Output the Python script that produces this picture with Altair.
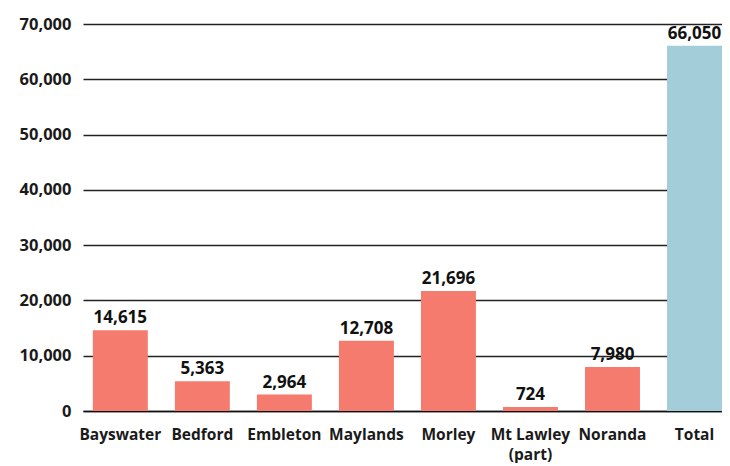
import altair as alt
import pandas as pd

suburbs = ["Bayswater", "Bedford", "Embleton", "Maylands", "Morley", "Mt Lawley\n(part)", "Noranda", "Total"]
values = [14615, 5363, 2964, 12708, 21696, 724, 7980, 66050]
groups = ["suburb"] * 7 + ["total"]
ticks = [0, 10000, 20000, 30000, 40000, 50000, 60000, 70000]

df = pd.DataFrame({"suburb": suburbs, "value": values, "group": groups})

FONT = "Open Sans"

x = alt.X("suburb:N", sort=suburbs, title=None,
          scale=alt.Scale(paddingInner=0.33, paddingOuter=0.06, align=1),
          axis=alt.Axis(labelAngle=0, labelFont=FONT, labelFontSize=15.5, labelFontWeight="bold",
                        labelColor="#1a1a1a", labelPadding=16, ticks=False, domain=True,
                        domainColor="#111", domainWidth=1.5, labelLineHeight=20,
                        labelExpr="split(datum.label, '\\n')"))

y = alt.Y("value:Q", title=None,
          scale=alt.Scale(domain=[0, 70000]),
          axis=alt.Axis(values=ticks, labelExpr="format(datum.value, ',')", labelFont=FONT,
                        labelFontSize=16.5, labelFontWeight="bold", labelColor="#1a1a1a",
                        labelPadding=12, ticks=False, domain=False, grid=True,
                        gridColor="#222", gridWidth=1.5))

bars = alt.Chart(df).mark_bar().encode(
    x=x, y=y,
    color=alt.Color("group:N", scale=alt.Scale(domain=["suburb", "total"], range=["#F47B6D", "#A3CDD9"]), legend=None),
)

labels = alt.Chart(df).mark_text(baseline="bottom", dy=-3, font=FONT, fontSize=17,
                                 fontWeight="bold", color="#111").encode(
    x=alt.X("suburb:N", sort=suburbs), y="value:Q", text=alt.Text("value:Q", format=","))

chart = (bars + labels).properties(
    width=639, height=387,
    autosize=alt.AutoSizeParams(type="none"),
    padding={"left": 75, "top": 16, "right": 0, "bottom": 52},
).configure_view(stroke=None)

chart.save("out.html", embed_options={"renderer": "svg", "actions": False})
